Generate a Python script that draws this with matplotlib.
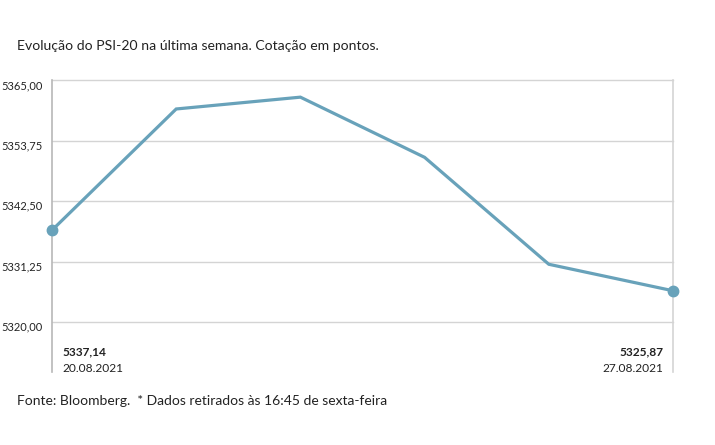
import matplotlib
matplotlib.use("Agg")
import matplotlib.pyplot as plt
import matplotlib.transforms as mtransforms

dates = ["20.08.2021", "23.08.2021", "24.08.2021", "25.08.2021", "26.08.2021", "27.08.2021"]
values = [5337.14, 5359.7, 5361.9, 5350.7, 5330.8, 5325.87]
yticks = [5320.00, 5331.25, 5342.50, 5353.75, 5365.00]
ytick_labels = ["5320,00", "5331,25", "5342,50", "5353,75", "5365,00"]
first_label = "5337,14"
last_label = "5325,87"

plt.rcParams['font.family'] = ['Lato', 'DejaVu Sans']
line_color = "#68a2ba"
grid_color = "#d4d4d4"
text_color = "#222222"

fig = plt.figure(figsize=(7.15, 4.45), dpi=100)
W, H = 715, 445
left, right, top, bottom = 52, 673, 80.5, 372
ax = fig.add_axes([left / W, 1 - bottom / H, (right - left) / W, (bottom - top) / H])

x = list(range(len(values)))
ax.plot(x, values, color=line_color, lw=2.3, solid_joinstyle='miter', zorder=3, clip_on=False)
ax.plot([x[0], x[-1]], [values[0], values[-1]], 'o', color=line_color, ms=7.5, zorder=4, clip_on=False)

ymax = 5365.0
ymin = ymax - (bottom - top) / ((322.3 - 80.5) / 45.0)
ax.set_ylim(ymin, ymax)
ax.set_xlim(0, len(values) - 1)

for t in yticks:
    ax.axhline(t, color=grid_color, lw=1.0, zorder=1, clip_on=False)

ax.set_yticks(yticks)
ax.set_yticklabels(ytick_labels)
ax.tick_params(axis='y', length=0, pad=7, labelsize=8.0, labelcolor=text_color)
offset = mtransforms.ScaledTranslation(0, -4 / 100, fig.dpi_scale_trans)
for lab in ax.get_yticklabels():
    lab.set_transform(lab.get_transform() + offset)
ax.set_xticks([])

for s in ['top', 'bottom']:
    ax.spines[s].set_visible(False)
ax.spines['left'].set_color("#b8b8b8")
ax.spines['left'].set_linewidth(1.2)
ax.spines['right'].set_color(grid_color)
ax.spines['right'].set_linewidth(1.2)

# annotations under the chart
fig.text(62 / W, 1 - 352 / H, first_label, fontsize=8.6, fontweight='bold', color=text_color, ha='left', va='center')
fig.text(62 / W, 1 - 368 / H, dates[0], fontsize=8.6, color=text_color, ha='left', va='center')
fig.text(663 / W, 1 - 352 / H, last_label, fontsize=8.6, fontweight='bold', color=text_color, ha='right', va='center')
fig.text(663 / W, 1 - 368 / H, dates[-1], fontsize=8.6, color=text_color, ha='right', va='center')

fig.text(17 / W, 1 - 46 / H, "Evolução do PSI-20 na última semana. Cotação em pontos.", fontsize=10.1, color=text_color, ha='left', va='center')
fig.text(17 / W, 1 - 401 / H, "Fonte: Bloomberg.  * Dados retirados às 16:45 de sexta-feira", fontsize=10.0, color=text_color, ha='left', va='center')

fig.savefig("out.png", dpi=100)
